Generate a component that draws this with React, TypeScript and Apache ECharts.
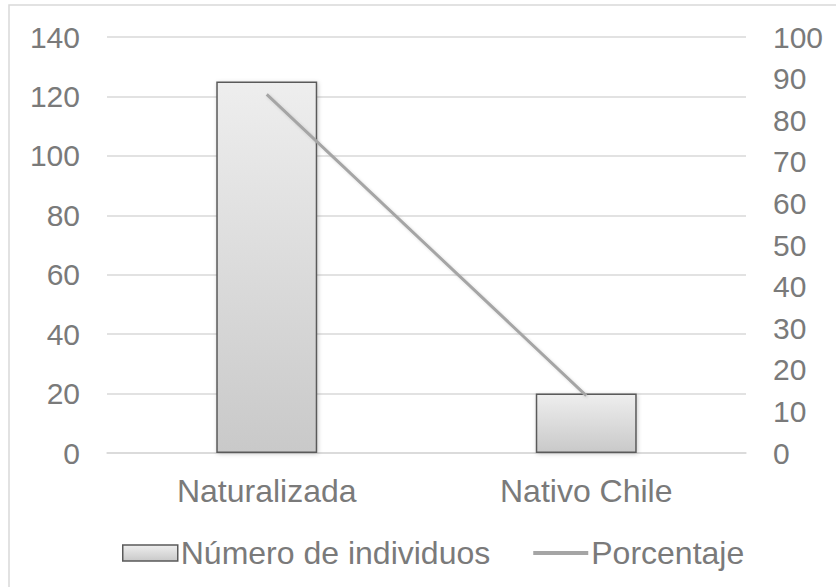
import React, { useEffect, useRef } from "react";
import * as echarts from "echarts";

const categories = ["Naturalizada", "Nativo Chile"];
const individuos = [125, 20];
const porcentaje = [86.2, 13.8];
const leftTicks = { min: 0, max: 140, interval: 20 };
const rightTicks = { min: 0, max: 100, interval: 10 };

const TXT = "#7a7a7a";
const FONT = "'Liberation Sans', Arial, sans-serif";
const FS = 30;
const FS_TXT = 32;

export default function App() {
  const ref = useRef<HTMLDivElement>(null);
  useEffect(() => {
    if (!ref.current) return;
    const chart = echarts.init(ref.current, undefined, { renderer: "svg" });
    const barFill = new echarts.graphic.LinearGradient(0, 0, 0, 1, [
      { offset: 0, color: "#eeeeee" },
      { offset: 1, color: "#c9c9c9" },
    ]);
    chart.setOption({
      animation: false,
      backgroundColor: "#ffffff",
      textStyle: { fontFamily: FONT },
      graphic: [
        {
          type: "rect",
          shape: { x: 9, y: 5, width: 840, height: 600 },
          style: { fill: "none", stroke: "#d9d9d9", lineWidth: 1.5 },
          silent: true,
        },
      ],
      grid: { left: 107, right: 90, top: 37, bottom: 134, containLabel: false },
      legend: {
        top: 532,
        left: 117,
        itemGap: 43,
        itemWidth: 55,
        itemHeight: 16,
        textStyle: { color: TXT, fontSize: FS_TXT, fontFamily: FONT, padding: [0, 0, 0, -2] },
        data: [
          { name: "Número de individuos", icon: "rect", itemStyle: { color: barFill, borderColor: "#5a5a5a", borderWidth: 1.5 } },
          { name: "Porcentaje", icon: "path://M0,0 L40,0 L40,3 L0,3 Z", itemStyle: { color: "#a5a5a5" } },
        ],
      },
      xAxis: {
        type: "category",
        data: categories,
        axisLine: { lineStyle: { color: "#d9d9d9", width: 1.5 } },
        axisTick: { show: false },
        axisLabel: { color: TXT, fontSize: FS_TXT, fontFamily: FONT, margin: 22 },
      },
      yAxis: [
        {
          type: "value",
          min: leftTicks.min,
          max: leftTicks.max,
          interval: leftTicks.interval,
          axisLine: { show: false },
          axisTick: { show: false },
          splitLine: { lineStyle: { color: "#d9d9d9", width: 1.5 } },
          axisLabel: { color: TXT, fontSize: FS, fontFamily: FONT, margin: 27 },
        },
        {
          type: "value",
          min: rightTicks.min,
          max: rightTicks.max,
          interval: rightTicks.interval,
          axisLine: { show: false },
          axisTick: { show: false },
          splitLine: { show: false },
          axisLabel: { color: TXT, fontSize: FS, fontFamily: FONT, margin: 27, align: "left" },
        },
      ],
      series: [
        {
          name: "Número de individuos",
          type: "bar",
          data: individuos,
          barWidth: "31.6%",
          itemStyle: {
            color: barFill,
            borderColor: "#5a5a5a",
            borderWidth: 1.5,
            shadowColor: "rgba(0,0,0,0.2)",
            shadowBlur: 4,
            shadowOffsetX: 1,
            shadowOffsetY: 1,
          },
        },
        {
          name: "Porcentaje",
          type: "line",
          yAxisIndex: 1,
          data: porcentaje,
          symbol: "none",
          lineStyle: {
            color: "#a5a5a5",
            width: 3,
            shadowColor: "rgba(0,0,0,0.15)",
            shadowBlur: 3,
            shadowOffsetX: 1,
            shadowOffsetY: 1,
          },
          itemStyle: { color: "#a5a5a5" },
        },
      ],
    });
    return () => chart.dispose();
  }, []);
  return (
    <div
      ref={ref}
      style={{ position: "fixed", left: 0, top: 0, width: 836, height: 587 }}
    />
  );
}
